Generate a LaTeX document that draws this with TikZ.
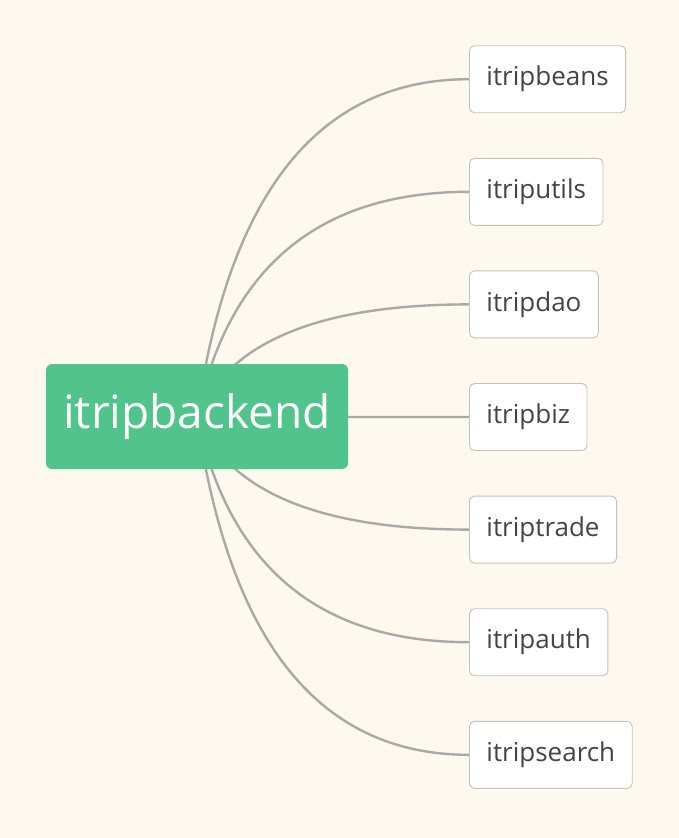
\documentclass[tikz,border=0pt]{standalone}
\usepackage{fontspec}
\setmainfont{Open Sans}
\usetikzlibrary{calc}
\definecolor{paper}{HTML}{FEF9EE}
\definecolor{rootgreen}{HTML}{50C48A}
\definecolor{linkgray}{HTML}{A9A9A9}
\definecolor{leafborder}{HTML}{C2C2C2}
\definecolor{leaftext}{HTML}{444444}
\pgfdeclarelayer{paperlayer}
\pgfdeclarelayer{linklayer}
\pgfsetlayers{paperlayer,linklayer,main}
\tikzset{
  rootbox/.style={fill=rootgreen, text=white, rounded corners=6pt,
    minimum width=302pt, minimum height=105pt, font=\fontsize{46}{50}\selectfont},
  leaf/.style={draw=leafborder, line width=0.9pt, fill=white, text=leaftext,
    rounded corners=5pt, minimum height=67pt, inner xsep=17pt, anchor=west,
    font=\fontsize{26}{30}\selectfont},
  link/.style={draw=linkgray, line width=2.4pt},
}
\begin{document}
\begin{tikzpicture}[x=1pt, y=-1pt]
  \begin{pgfonlayer}{paperlayer}
    \fill[paper] (0,0) rectangle (679,838);
  \end{pgfonlayer}
  \useasboundingbox (0,0) rectangle (679,838);

  \node[rootbox] (root) at (197,416.5) {itripbackend};

  % children, one per row
  \foreach \name/\k in {itripbeans/-3, itriputils/-2, itripdao/-1, itripbiz/0,
                        itriptrade/1, itripauth/2, itripsearch/3}
    \node[leaf] (\name) at (469, 417+112.6*\k) {\name};

  % curved links (quadratic, control point level with the child)
  \begin{pgfonlayer}{linklayer}
    \foreach \name in {itripbeans, itriputils, itripdao, itripbiz,
                       itriptrade, itripauth, itripsearch} {
      \coordinate (q-\name) at ([xshift=48pt]root.center |- \name.west);
      \draw[link] (root.center)
        .. controls ($(root.center)!0.667!(q-\name)$)
           and ($(\name.west)!0.667!(q-\name)$) .. (\name.west);
    }
  \end{pgfonlayer}
\end{tikzpicture}
\end{document}
